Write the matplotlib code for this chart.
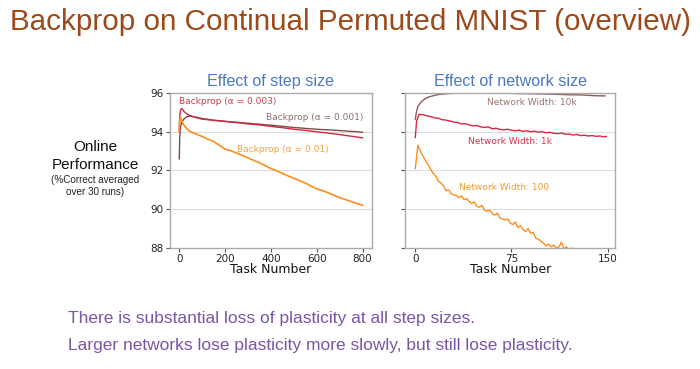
import matplotlib
matplotlib.use("Agg")
import matplotlib.pyplot as plt

# --- left panel: effect of step size ---
step_x = [0, 2, 5, 10, 15, 20, 30, 40, 50, 75, 100, 125, 150, 175, 200, 225, 250, 275,
          300, 325, 350, 375, 400, 425, 450, 475, 500, 525, 550, 575, 600, 625, 650,
          675, 700, 725, 750, 775, 800]
acc_a0003 = [94.0, 94.8, 95.1, 95.2, 95.15, 95.05, 94.95, 94.87, 94.82, 94.72, 94.65, 94.62,
             94.58, 94.56, 94.53, 94.5, 94.47, 94.44, 94.4, 94.38, 94.35, 94.31, 94.28,
             94.24, 94.21, 94.17, 94.13, 94.1, 94.07, 94.03, 94.0, 93.96, 93.93, 93.89,
             93.85, 93.81, 93.77, 93.73, 93.68]
acc_a0001 = [92.6, 93.7, 94.2, 94.45, 94.57, 94.65, 94.75, 94.8, 94.8, 94.75, 94.68, 94.64,
             94.6, 94.57, 94.54, 94.51, 94.49, 94.46, 94.44, 94.41, 94.39, 94.36, 94.34,
             94.31, 94.28, 94.25, 94.22, 94.2, 94.17, 94.15, 94.13, 94.11, 94.1, 94.08,
             94.06, 94.04, 94.02, 94.0, 93.97]
acc_a001 = [94.0, 94.6, 94.75, 94.6, 94.45, 94.35, 94.2, 94.08, 94.0, 93.88, 93.75, 93.62,
            93.5, 93.3, 93.1, 93.02, 92.9, 92.78, 92.65, 92.52, 92.4, 92.25, 92.1, 91.98,
            91.85, 91.72, 91.6, 91.47, 91.35, 91.2, 91.05, 90.96, 90.85, 90.72, 90.6,
            90.5, 90.4, 90.3, 90.2]

# --- right panel: effect of network size ---
w10k_x = [0, 1, 2, 4, 6, 8, 10, 14, 18, 24, 30, 40, 50, 60, 70, 80, 90, 100, 110, 120,
          130, 140, 148]
w10k = [94.65, 95.05, 95.3, 95.5, 95.62, 95.72, 95.78, 95.86, 95.92, 95.96, 95.98, 96.0,
        96.0, 95.98, 95.99, 95.97, 95.96, 95.95, 95.93, 95.91, 95.9, 95.86, 95.85]

w1k_x = [0, 1, 3, 6, 9, 12, 15, 18, 21, 24, 27, 30, 33, 36, 39, 42, 45, 48, 51, 54, 57,
         60, 63, 66, 69, 72, 75, 78, 81, 84, 87, 90, 93, 96, 99, 102, 105, 108, 111, 114,
         117, 120, 123, 126, 129, 132, 135, 138, 141, 144, 147, 149]
w1k = [93.7, 94.55, 94.9, 94.88, 94.82, 94.78, 94.72, 94.7, 94.62, 94.6, 94.55, 94.5,
       94.47, 94.4, 94.42, 94.35, 94.3, 94.32, 94.25, 94.22, 94.25, 94.15, 94.18, 94.12,
       94.1, 94.13, 94.08, 94.05, 94.08, 94.02, 94.05, 94.0, 94.03, 93.98, 94.0, 93.95,
       93.97, 93.92, 93.9, 93.93, 93.87, 93.88, 93.83, 93.86, 93.8, 93.82, 93.78, 93.8,
       93.76, 93.78, 93.73, 93.76]

w100_x = [0, 2, 4, 6, 8, 10, 12, 14, 16, 18, 20, 22, 24, 26, 28, 30, 32, 34, 36, 38, 40,
          42, 44, 46, 48, 50, 52, 54, 56, 58, 60, 62, 64, 66, 68, 70, 72, 74, 76, 78, 80,
          82, 84, 86, 88, 90, 92, 94, 96, 98, 100, 102, 104, 106, 108, 110, 112, 114, 116,
          118, 120, 122, 124, 126, 128, 130, 140, 150]
w100 = [92.1, 93.3, 93.0, 92.75, 92.5, 92.3, 92.05, 91.85, 91.7, 91.45, 91.35, 91.2,
        90.95, 91.0, 90.8, 90.75, 90.7, 90.6, 90.68, 90.5, 90.55, 90.4, 90.3, 90.38,
        90.15, 90.1, 90.2, 89.95, 89.9, 89.95, 89.78, 89.7, 89.8, 89.55, 89.5, 89.45,
        89.5, 89.3, 89.2, 89.35, 89.05, 89.15, 88.95, 88.85, 89.0, 88.75, 88.8, 88.5,
        88.45, 88.35, 88.25, 88.1, 88.2, 88.05, 88.15, 88.0, 88.05, 88.3, 87.95, 88.05,
        87.9, 88.0, 87.85, 87.9, 87.75, 87.8, 87.6, 87.5]

y_ticks = [88, 90, 92, 94, 96]

c_crimson = "#cc2b3f"
c_brown = "#7d4b4b"
c_orange = "#ff8c1a"
c_title = "#4a78c2"
c_spine = "#aaaaaa"

fig = plt.figure(figsize=(7, 3.69), dpi=100)
fig.patch.set_facecolor("white")

ax1 = fig.add_axes([0.243, 0.328, 0.288, 0.42])
ax2 = fig.add_axes([0.579, 0.328, 0.300, 0.42])

for ax in (ax1, ax2):
    ax.set_ylim(88, 96)
    ax.set_yticks(y_ticks)
    for g in [90, 92, 94]:
        ax.axhline(g, color="#dddddd", lw=0.8, zorder=0)
    for s in ax.spines.values():
        s.set_color(c_spine)
        s.set_linewidth(1.0)
    ax.tick_params(colors="#555555", labelcolor="#222222", labelsize=7.5, length=3,
                   width=0.8, pad=1.5)
    ax.set_xlabel("Task Number", fontsize=9, labelpad=-1, color="#111111")

# left panel
ax1.plot(step_x, acc_a0001, color=c_brown, lw=1.0)
ax1.plot(step_x, acc_a0003, color=c_crimson, lw=1.0)
ax1.plot(step_x, acc_a001, color=c_orange, lw=1.2)
ax1.set_xlim(-40, 840)
ax1.set_xticks([0, 200, 400, 600, 800])
ax1.set_title("Effect of step size", fontsize=11.6, color=c_title, pad=5,
              family="Liberation Sans")
ax1.text(0, 95.55, "Backprop (α = 0.003)", color="#d23c4e", fontsize=6.5,
         ha="left", va="center")
ax1.text(804, 94.72, "Backprop (α = 0.001)", color="#8e6e6e", fontsize=6.5,
         ha="right", va="center")
ax1.text(452, 93.1, "Backprop (α = 0.01)", color="#f7a040", fontsize=6.5,
         ha="center", va="center")

# right panel
ax2.plot(w10k_x, w10k, color="#8f5a5a", lw=1.0)
ax2.plot(w1k_x, w1k, color="#d8283f", lw=1.0)
ax2.plot(w100_x, w100, color=c_orange, lw=1.0)
ax2.set_xlim(-7.8, 156)
ax2.set_xticks([0, 75, 150])
ax2.set_yticklabels([])
ax2.set_title("Effect of network size", fontsize=11.6, color=c_title, pad=5,
              family="Liberation Sans")
ax2.text(91, 95.5, "Network Width: 10k", color="#a07272", fontsize=6.5,
         ha="center", va="center")
ax2.text(74, 93.5, "Network Width: 1k", color="#d8304a", fontsize=6.5,
         ha="center", va="center")
ax2.text(69, 91.1, "Network Width: 100", color="#f59a30", fontsize=6.5,
         ha="center", va="center")

# y label block
fig.text(0.136, 0.602, "Online", ha="center", va="center", fontsize=11,
         family="Liberation Sans", color="#111111")
fig.text(0.136, 0.553, "Performance", ha="center", va="center", fontsize=11,
         family="Liberation Sans", color="#111111")
fig.text(0.136, 0.512, "(%Correct averaged", ha="center", va="center", fontsize=7.1,
         family="Liberation Sans", color="#222222")
fig.text(0.136, 0.48, "over 30 runs)", ha="center", va="center", fontsize=7.1,
         family="Liberation Sans", color="#222222")

# slide title and notes
fig.text(0.014, 0.94, "Backprop on Continual Permuted MNIST (overview)", ha="left",
         va="center", fontsize=21.3, color="#9c4a1a", family="Liberation Sans")
fig.text(0.097, 0.138, "There is substantial loss of plasticity at all step sizes.",
         ha="left", va="center", fontsize=12.5, color="#7b55a8", family="Liberation Sans")
fig.text(0.097, 0.065,
         "Larger networks lose plasticity more slowly, but still lose plasticity.",
         ha="left", va="center", fontsize=12.5, color="#7b55a8", family="Liberation Sans")

fig.savefig("out.png", dpi=100, facecolor="white")
